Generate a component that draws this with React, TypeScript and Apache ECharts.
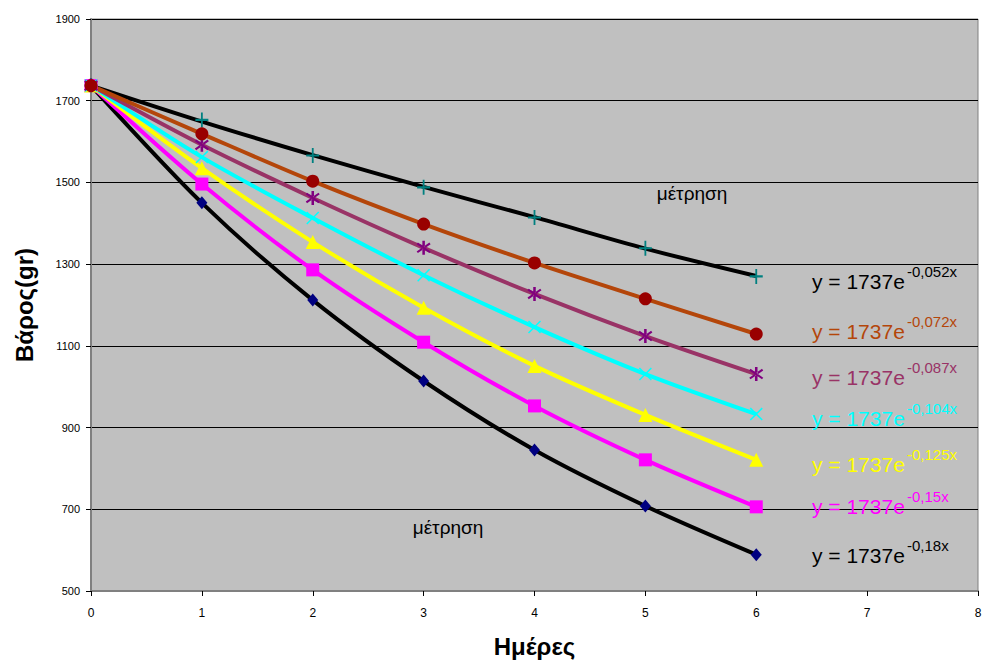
import React, { useEffect, useRef } from "react";
import * as echarts from "echarts";

const days = [0, 1, 2, 3, 4, 5, 6];
const yTicks = [500, 700, 900, 1100, 1300, 1500, 1700, 1900];
const measTop = [1737, 1653, 1566, 1488, 1414, 1339, 1270];
const trendTop = [1737, 1649, 1567, 1489, 1415, 1338, 1271];
const s072 = [1737, 1619, 1503, 1398, 1303, 1215, 1129];
const s087 = [1737, 1592, 1462, 1340, 1227, 1124, 1031];
const s104 = [1737, 1562, 1413, 1273, 1146, 1031, 933];
const s125 = [1737, 1535, 1354, 1193, 1051, 931, 821];
const s150 = [1737, 1496, 1286, 1109, 953, 821, 706];
const s180 = [1737, 1450, 1212, 1014, 845, 708, 589];
const eqMain = "y = 1737e";
const eqExps = ["-0,052x", "-0,072x", "-0,087x", "-0,104x", "-0,125x", "-0,15x", "-0,18x"];
const eqColors = ["#000000", "#B4460A", "#993366", "#00FFFF", "#FFFF00", "#FF00FF", "#000000"];
const eqY = [281, 331, 377, 418, 464, 506, 555];
const noteText = "μέτρηση";

const PLUS = "path://M4.3,0H5.7V4.3H10V5.7H5.7V10H4.3V5.7H0V4.3H4.3Z";
const STAR = "path://M4.2,0H5.8V10H4.2Z M0.6,2.4L1.4,1.2L9.4,7.6L8.6,8.8Z M9.4,2.4L8.6,1.2L0.6,7.6L1.4,8.8Z";
const XMARK = "path://M0.8,0L5,4.2L9.2,0L10,0.8L5.8,5L10,9.2L9.2,10L5,5.8L0.8,10L0,9.2L4.2,5L0,0.8Z";

const pts = (arr: number[]) => arr.map((v, i) => [days[i], v]);

export default function App() {
  const ref = useRef<HTMLDivElement>(null);
  useEffect(() => {
    const chart = echarts.init(ref.current!, null, { renderer: "svg" });
    const font = "Arial, 'Liberation Sans', sans-serif";
    const lineSeries = (
      data: number[],
      lineColor: string,
      markColor: string,
      symbol: string,
      size: number | number[],
      showLine = true
    ) => ({
      type: "line",
      data: pts(data),
      smooth: 0.3,
      symbol,
      symbolSize: size,
      showSymbol: true,
      lineStyle: showLine ? { color: lineColor, width: 4 } : { width: 0, opacity: 0 },
      itemStyle: { color: markColor, borderWidth: 0 },
      z: 3,
    });
    const graphics: any[] = [];
    eqExps.forEach((e, i) => {
      graphics.push({
        type: "text",
        x: 812,
        y: eqY[i],
        z: 10,
        style: { text: eqMain, fontSize: 21, fontFamily: font, fill: eqColors[i], verticalAlign: "middle" },
      });
      graphics.push({
        type: "text",
        x: 907,
        y: eqY[i] - 10,
        z: 10,
        style: { text: e, fontSize: 15, fontFamily: font, fill: eqColors[i], verticalAlign: "middle" },
      });
    });
    graphics.push(
      { type: "text", x: 692, y: 193, z: 10, style: { text: noteText, fontSize: 19, fontFamily: font, fill: "#000", align: "center", verticalAlign: "middle" } },
      { type: "text", x: 448, y: 527, z: 10, style: { text: noteText, fontSize: 19, fontFamily: font, fill: "#000", align: "center", verticalAlign: "middle" } }
    );
    chart.setOption({
      animation: false,
      backgroundColor: "#ffffff",
      grid: {
        left: 91,
        right: 4,
        top: 19,
        bottom: 72,
        outerBoundsMode: "none",
        containLabel: false,
        show: true,
        backgroundColor: "#C0C0C0",
        borderColor: "#808080",
        borderWidth: 1,
      },
      xAxis: {
        type: "value",
        min: 0,
        max: 8,
        interval: 1,
        name: "Ημέρες",
        nameLocation: "middle",
        nameGap: 43,
        nameTextStyle: { fontSize: 24, fontWeight: "bold", fontFamily: font, color: "#000" },
        axisLine: { show: true, lineStyle: { color: "#808080", width: 2 } },
        axisTick: { show: true, length: 5, lineStyle: { color: "#000" } },
        axisLabel: { fontSize: 12, fontFamily: font, color: "#000", margin: 16 },
        splitLine: { show: false },
      },
      yAxis: {
        type: "value",
        min: 500,
        max: 1900,
        interval: 200,
        name: "Βάρος(gr)",
        nameLocation: "middle",
        nameGap: 55,
        nameRotate: 90,
        nameTextStyle: { fontSize: 24, fontWeight: "bold", fontFamily: font, color: "#000" },
        axisLine: { show: true, lineStyle: { color: "#808080", width: 2 } },
        axisTick: { show: true, length: 5, lineStyle: { color: "#000" } },
        axisLabel: {
          fontSize: 11,
          fontFamily: font,
          color: "#000",
          margin: 11,
          formatter: (v: number) => (yTicks.includes(v) ? String(v) : ""),
        },
        splitLine: { show: true, lineStyle: { color: "#000", width: 1 } },
      },
      graphic: graphics,
      series: [
        lineSeries(trendTop, "#000000", "#000000", "none", 0),
        lineSeries(measTop, "#000000", "#008080", PLUS, [13, 15], false),
        lineSeries(s180, "#000000", "#000080", "diamond", [11, 13]),
        lineSeries(s150, "#FF00FF", "#FF00FF", "rect", 13),
        lineSeries(s125, "#FFFF00", "#FFFF00", "triangle", 14),
        lineSeries(s104, "#00FFFF", "#00FFFF", XMARK, 13),
        lineSeries(s087, "#993366", "#800080", STAR, 14),
        lineSeries(s072, "#B4460A", "#990000", "circle", 13),
      ],
    });
    return () => chart.dispose();
  }, []);
  return (
    <div
      ref={ref}
      style={{ position: "absolute", left: 0, top: 0, width: 982, height: 663, background: "#fff" }}
    />
  );
}
